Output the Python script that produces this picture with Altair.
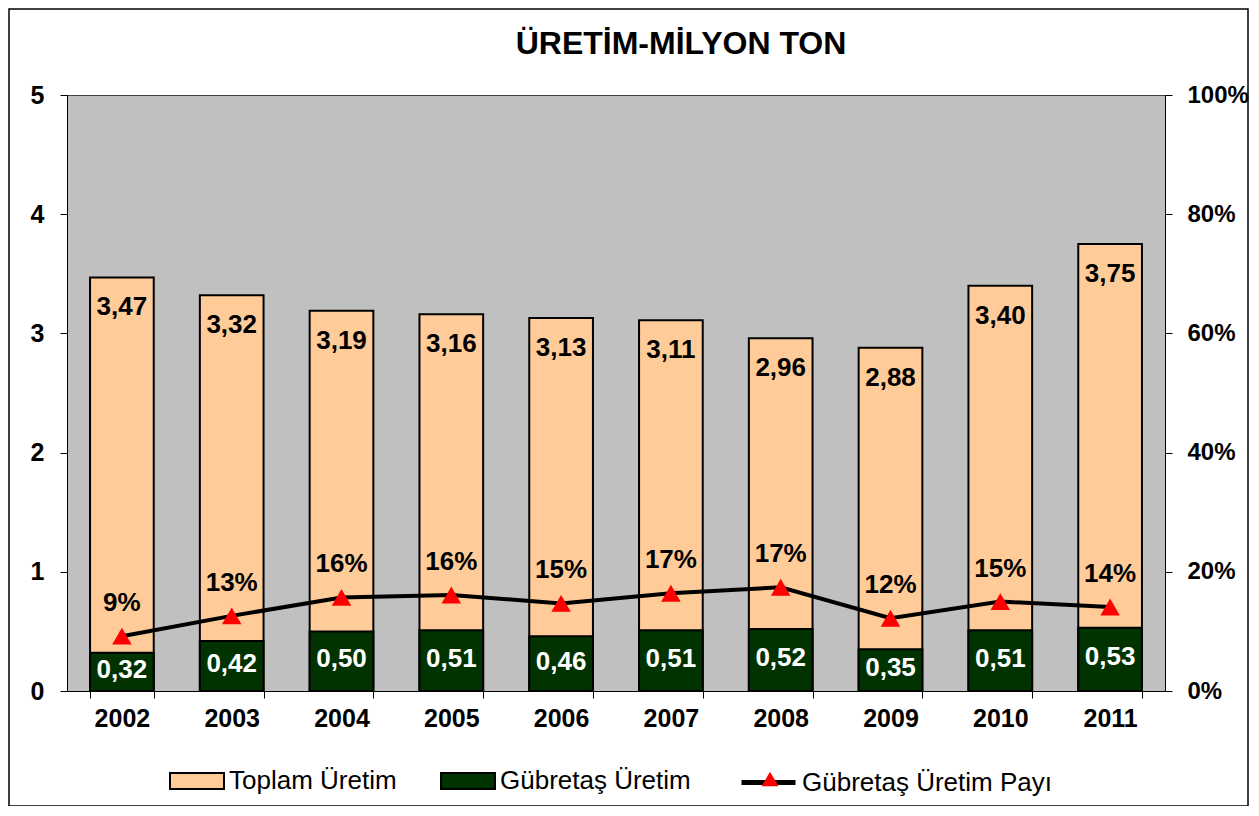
import altair as alt
import pandas as pd

# ---- data ----
years = ["2002", "2003", "2004", "2005", "2006", "2007", "2008", "2009", "2010", "2011"]
toplam = [3.47, 3.32, 3.19, 3.16, 3.13, 3.11, 2.96, 2.88, 3.40, 3.75]
gubretas = [0.32, 0.42, 0.50, 0.51, 0.46, 0.51, 0.52, 0.35, 0.51, 0.53]
pay = [9.2, 12.6, 15.7, 16.1, 14.7, 16.4, 17.4, 12.2, 15.0, 14.1]
pay_labels = ["9%", "13%", "16%", "16%", "15%", "17%", "17%", "12%", "15%", "14%"]
left_ticks = [0, 1, 2, 3, 4, 5]
right_ticks = [0, 20, 40, 60, 80, 100]

S_T = "Toplam Üretim"
S_G = "Gübretaş Üretim"
S_P = "Gübretaş Üretim Payı"
TITLE = "ÜRETİM-MİLYON TON"

FONT = "Liberation Sans"
PEACH = "#FFCC99"
GREEN = "#003300"

bars_df = pd.DataFrame({
    "year": years * 2,
    "series": [S_T] * len(years) + [S_G] * len(years),
    "value": toplam + gubretas,
})
line_df = pd.DataFrame({
    "year": years, "pay": pay, "label": pay_labels,
    "lineseries": [S_P] * len(years), "ptseries": ["marker"] * len(years),
})

X_AXIS = alt.Axis(title=None, labelAngle=0, tickBand="extent", labelPadding=8)
x_enc = alt.X("year:N", sort=years, scale=alt.Scale(paddingInner=0.42, paddingOuter=0.21), axis=X_AXIS)

LEFT_SCALE = alt.Scale(domain=[0, 5], nice=False)
LEFT_AXIS = alt.Axis(values=left_ticks, title=None, labelPadding=16, orient="left")
RIGHT_SCALE = alt.Scale(domain=[0, 100], nice=False)
RIGHT_AXIS = alt.Axis(orient="right", values=right_ticks, labelExpr="datum.value + '%'", title=None,
                      labelPadding=15, labelFontSize=24)

base_bars = alt.Chart(bars_df)

bars = base_bars.mark_bar(stroke="black", strokeWidth=2).encode(
    x=x_enc,
    y=alt.Y("value:Q", stack=None, scale=LEFT_SCALE, axis=LEFT_AXIS),
    fill=alt.Fill(
        "series:N",
        scale=alt.Scale(domain=[S_T, S_G], range=[PEACH, GREEN]),
        legend=alt.Legend(
            orient="none", legendX=102, legendY=658, direction="horizontal", title=None,
            symbolType="M-1,-0.3H1V0.3H-1Z", symbolSize=2916, symbolStrokeColor="black",
            symbolStrokeWidth=2, symbolOpacity=1, labelOffset=4, columnPadding=40,
            labelFontSize=26, labelFont=FONT, labelColor="black", labelLimit=0,
        ),
    ),
)

total_labels = base_bars.transform_filter(alt.datum.series == S_T).transform_calculate(
    lbl="replace(format(datum.value, '.2f'), '.', ',')"
).mark_text(font=FONT, fontSize=26, fontWeight="bold", color="black", baseline="middle", dy=30).encode(
    x=x_enc,
    y=alt.Y("value:Q", stack=None, scale=LEFT_SCALE, axis=LEFT_AXIS),
    text="lbl:N",
)

green_labels = base_bars.transform_filter(alt.datum.series == S_G).transform_calculate(
    lbl="replace(format(datum.value, '.2f'), '.', ',')",
    value="datum.value / 2",
).mark_text(font=FONT, fontSize=26, fontWeight="bold", color="white", baseline="middle", dy=-2).encode(
    x=x_enc,
    y=alt.Y("value:Q", stack=None, scale=LEFT_SCALE, axis=LEFT_AXIS),
    text="lbl:N",
)

one_row = alt.Data(values=[{"title": TITLE}])

border = alt.Chart(one_row).mark_rect(
    fillOpacity=0, stroke="black", strokeWidth=1.5
).encode(
    x=alt.value(-58), x2=alt.value(1181), y=alt.value(-86), y2=alt.value(711)
)

title_text = alt.Chart(one_row).mark_text(
    font=FONT, fontSize=32, fontWeight="bold", color="black", align="center", baseline="alphabetic"
).encode(
    x=alt.value(614), y=alt.value(-41), text="title:N"
)

left = alt.layer(bars, total_labels, green_labels, border, title_text)

base_line = alt.Chart(line_df)

line = base_line.mark_line(strokeWidth=4).encode(
    x=x_enc,
    y=alt.Y("pay:Q", scale=RIGHT_SCALE, axis=RIGHT_AXIS),
    stroke=alt.Stroke(
        "lineseries:N",
        scale=alt.Scale(domain=[S_P], range=["black"]),
        legend=alt.Legend(
            orient="none", legendX=672, legendY=658, title=None,
            symbolType="stroke", symbolSize=2916, symbolStrokeWidth=5,
            labelOffset=4, labelFontSize=26, labelFont=FONT, labelColor="black", labelLimit=0,
        ),
    ),
)

points = base_line.mark_point(filled=True, size=380, color="red", opacity=1).encode(
    x=x_enc,
    y=alt.Y("pay:Q", scale=RIGHT_SCALE, axis=RIGHT_AXIS),
    shape=alt.Shape(
        "ptseries:N",
        scale=alt.Scale(domain=["marker"], range=["triangle-up"]),
        legend=alt.Legend(
            orient="none", legendX=690, legendY=671, title=None,
            symbolSize=289, symbolFillColor="red", symbolStrokeColor="red", symbolStrokeWidth=0,
            symbolOpacity=1, labelExpr="''", labelFontSize=26,
        ),
    ),
)

pct_labels = base_line.mark_text(
    font=FONT, fontSize=26, fontWeight="bold", color="black", baseline="middle", dy=-33
).encode(
    x=x_enc,
    y=alt.Y("pay:Q", scale=RIGHT_SCALE, axis=RIGHT_AXIS),
    text="label:N",
)

right = alt.layer(line, points, pct_labels)

chart = alt.layer(left, right).resolve_scale(y="independent").properties(
    width=1098,
    height=596,
    padding={"left": 59, "top": 87, "right": 85, "bottom": 115},
    autosize=alt.AutoSizeParams(type="none"),
    background="white",
).configure_axis(
    labelFont=FONT, labelFontSize=25, labelFontWeight="bold", labelColor="black",
    domainColor="black", domainWidth=1, tickColor="black", tickSize=7, grid=False,
).configure_view(
    fill="#C0C0C0", stroke="#404040", strokeWidth=1,
).configure_legend(
    padding=0,
)

chart.save("out.html", embed_options={"renderer": "svg", "actions": False})
